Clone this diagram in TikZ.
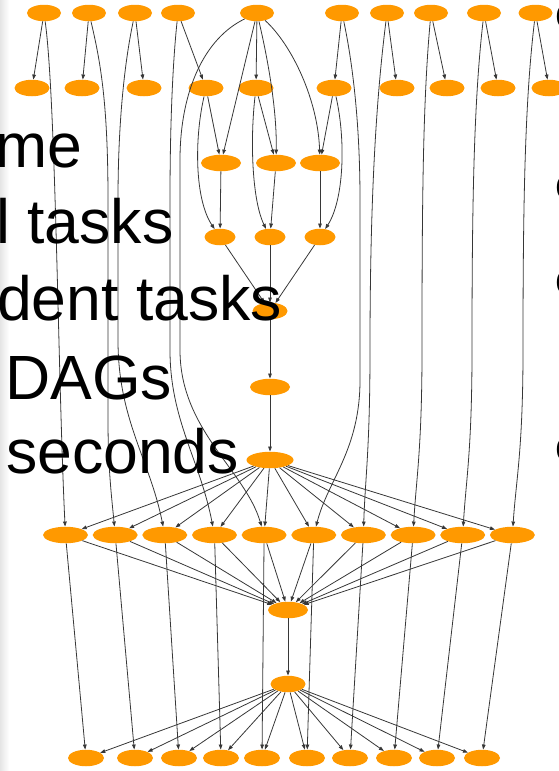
\documentclass[tikz,border=0pt]{standalone}
\usepackage{fontspec}
\setmainfont{Liberation Sans}
\usetikzlibrary{shapes.geometric,arrows.meta}
\definecolor{dagorange}{RGB}{255,153,0}
\definecolor{edgegray}{RGB}{55,55,55}
\begin{document}
\begin{tikzpicture}[x=1pt,y=-1pt,
  task/.style={ellipse, fill=dagorange, draw=none, inner sep=0pt, minimum width=#1, minimum height=16.5pt},
  task/.default=35pt,
  dep/.style={draw=edgegray, line width=0.8pt, -{Triangle[length=5pt,width=3.6pt]}},
  slide/.style={font=\fontsize{62.5}{70}\selectfont, anchor=base west, inner sep=0pt, text=black},
  edgeglyph/.style={font=\fontsize{44}{50}\selectfont, anchor=base west, inner sep=0pt, text=black}]
\useasboundingbox (0,0) rectangle (559,771);
\fill[left color=black!10, right color=white, draw=none] (0,0) rectangle (9,771);

% ---------- nodes ----------
\foreach \x [count=\i from 0] in {44,89,135,178,257,342,387,431,484,535.5}
  \node[task=34pt] (A\i) at (\x,13) {};
\foreach \x [count=\i from 0] in {32,82,144,206,256,334,397,447,498,549}
  \node[task] (B\i) at (\x,88) {};
\foreach \x [count=\i from 0] in {221,276,320}
  \node[task=40pt] (C\i) at (\x,163) {};
\foreach \x [count=\i from 0] in {220,270,320}
  \node[task=31pt] (D\i) at (\x,237) {};
\node[task=35pt] (E) at (270,311) {};
\node[task=40pt] (F) at (270,387) {};
\node[task=47pt] (G) at (270,460) {};
\foreach \x [count=\i from 0] in {65.5,115.2,164.8,214.5,264.1,313.8,363.4,413.1,462.7,512.4}
  \node[task=45pt] (H\i) at (\x,535) {};
\node[task=40pt] (I) at (288,610) {};
\node[task=35pt] (J) at (288,684) {};
\foreach \x [count=\i from 0] in {86,135,179,221,262,307,350,394,437,482}
  \node[task=36pt] (K\i) at (\x,758) {};

% ---------- edges ----------
\foreach \i in {0,...,9} \draw[dep] (A\i) -- (B\i);

\draw[dep] (A0) .. controls (56,100) and (58,380) .. (H0);
\draw[dep] (A1) .. controls (100,60) and (108,100) .. (108,200) -- (108,420) .. controls (108,470) and (112,500) .. (H1);
\draw[dep] (A2) .. controls (125,60) and (118,120) .. (118,200) -- (118,340) .. controls (118,420) and (150,460) .. (H2);
\draw[dep] (A3) .. controls (173,60) and (170,120) .. (170,200) -- (170,350) .. controls (170,420) and (200,460) .. (H3);
\draw[dep] (A4) .. controls (205,38) and (180,90) .. (180,160) -- (180,350) .. controls (180,430) and (245,470) .. (H4);
\draw[dep] (A5) .. controls (352,60) and (360,120) .. (360,200) -- (360,380) .. controls (360,450) and (328,480) .. (H5);
\draw[dep] (A6) .. controls (376,100) and (370,200) .. (370,350) .. controls (370,450) and (365,480) .. (H6);
\draw[dep] (A7) .. controls (423,100) and (422,200) .. (422,350) .. controls (422,450) and (416,480) .. (H7);
\draw[dep] (A8) .. controls (474,100) and (472,200) .. (472,350) .. controls (472,450) and (466,480) .. (H8);
\draw[dep] (A9) .. controls (525,100) and (523,200) .. (523,350) .. controls (523,450) and (516,480) .. (H9);

\draw[dep] (A4) -- (C0);
\draw[dep] (A4) .. controls (268,60) and (277,110) .. (C1);
\draw[dep] (A4) .. controls (292,45) and (318,100) .. (C2);
\draw[dep] (B3) -- (C0);
\draw[dep] (B3) .. controls (194,140) and (195,200) .. (D0);
\draw[dep] (B4) -- (C1);
\draw[dep] (B4) .. controls (250,140) and (252,200) .. (D1);
\draw[dep] (B5) -- (C2);
\draw[dep] (B5) .. controls (346,140) and (344,200) .. (D2);
\foreach \i in {0,1,2} {
  \draw[dep] (C\i) -- (D\i);
  \draw[dep] (D\i) -- (E);
}
\draw[dep] (E) -- (F);
\draw[dep] (F) -- (G);
\foreach \i in {0,...,9} {
  \draw[dep] (G) -- (H\i);
  \draw[dep] (H\i) -- (I);
  \draw[dep] (H\i) -- (K\i);
  \draw[dep] (J) -- (K\i);
}
\draw[dep] (I) -- (J);

% ---------- slide text ----------
\node[slide] (t1) at (-5,167) {me};
\node[slide] (t2) at (-4,243) {l tasks};
\node[slide] (t3) at (-3,320) {dent tasks};
\node[slide] (t4) at (5,399) {DAGs};
\node[slide] (t5) at (6,473) {seconds};
\node[edgeglyph] (r1) at (555.5,28.5) {o};
\node[edgeglyph] (r2) at (555.5,199.5) {o};
\node[edgeglyph] (r3) at (555.5,294.5) {o};
\node[edgeglyph] (r4) at (555.5,461.5) {o};
\end{tikzpicture}
\end{document}
